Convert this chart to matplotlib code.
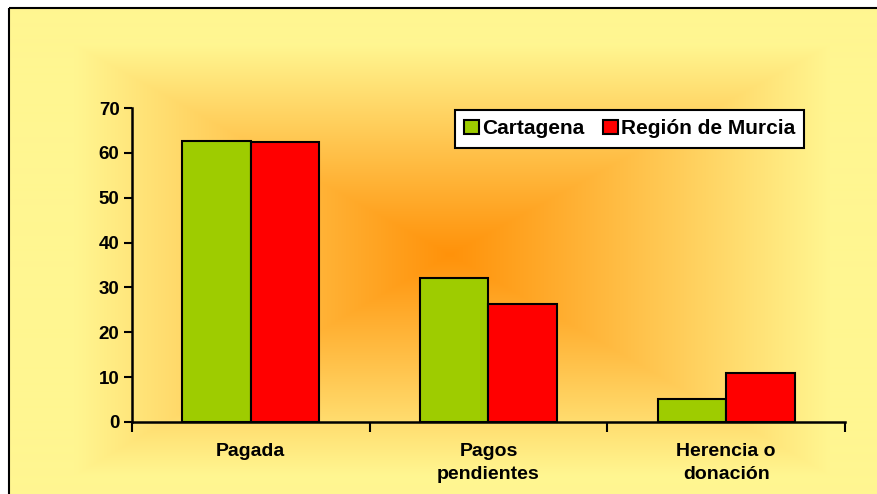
import numpy as np
import matplotlib.pyplot as plt
from matplotlib.patches import Rectangle

categories = ['Pagada', 'Pagos\npendientes', 'Herencia o\ndonación']
cartagena = [62.7, 32.1, 5.1]
murcia = [62.5, 26.3, 10.9]
series_names = ['Cartagena', 'Región de Murcia']
yticks = [0, 10, 20, 30, 40, 50, 60, 70]

plt.rcParams['font.family'] = ['Liberation Sans', 'DejaVu Sans']
plt.rcParams['font.weight'] = 'bold'

W, H = 877, 494
fig = plt.figure(figsize=(W / 100, H / 100), dpi=100)
fig.patch.set_facecolor('white')

# background: rectangular gradient, orange centre -> pale yellow edges
bg = fig.add_axes([0, 0, 1, 1], zorder=-2)
bg.set_axis_off()
cx, cy = 450, 255
xs = np.arange(W) + 0.5
ys = np.arange(H) + 0.5
X, Y = np.meshgrid(xs, ys)
dx = np.where(X < cx, (cx - X) / (cx - 9), (X - cx) / (W + 20 - cx))
dy = np.where(Y < cy, (cy - Y) / (cy - 9), (Y - cy) / (H + 20 - cy))
t = np.clip(np.maximum(dx, dy) / 0.85, 0, 1) ** 1.05
c0 = np.array([255, 146, 10]) / 255
c1 = np.array([255, 246, 145]) / 255
img = c0 + (c1 - c0) * t[..., None]
img[Y < 8] = 1
img[X < 9] = 1
bg.imshow(img, extent=[0, W, H, 0], aspect='auto', interpolation='bilinear')
bg.set_xlim(0, W)
bg.set_ylim(H, 0)
bg.add_patch(Rectangle((9, 8), W + 20, H + 20, fill=False, edgecolor='black', lw=1.5))

ax = fig.add_axes([132 / W, 1 - 422 / H, (845 - 132) / W, (422 - 108) / H])
ax.patch.set_alpha(0)

x = np.arange(len(categories))
width = 0.288
ax.bar(x - width / 2, cartagena, width, color='#9ECC00', edgecolor='black', lw=1.5,
       label=series_names[0])
ax.bar(x + width / 2, murcia, width, color='#FF0000', edgecolor='black', lw=1.5,
       label=series_names[1])

ax.set_xlim(-0.5, 2.5)
ax.set_ylim(0, 70)
ax.set_yticks(yticks)
ax.tick_params(axis='y', direction='out', length=6, width=1.5, labelsize=13.5, pad=3)
ax.set_xticks(x)
ax.set_xticklabels(categories, fontsize=14, linespacing=1.5)
ax.tick_params(axis='x', length=0, pad=15)
ax.set_xticks([-0.5, 0.5, 1.5, 2.5], minor=True)
ax.tick_params(axis='x', which='minor', direction='out', length=7, width=1.5)
for s in ['top', 'right']:
    ax.spines[s].set_visible(False)
for s in ['left', 'bottom']:
    ax.spines[s].set_linewidth(1.8)

leg = ax.legend(loc='upper left', bbox_to_anchor=((455 - 132) / (845 - 132), 1 - (110 - 108) / 314),
                ncol=2, fontsize=15, frameon=True, fancybox=False, framealpha=1,
                edgecolor='black', handlelength=0.7, handleheight=0.7,
                handletextpad=0.15, columnspacing=0.9, borderpad=0.45, borderaxespad=0)
leg.get_frame().set_linewidth(1.5)

fig.savefig('out.png', dpi=100)
